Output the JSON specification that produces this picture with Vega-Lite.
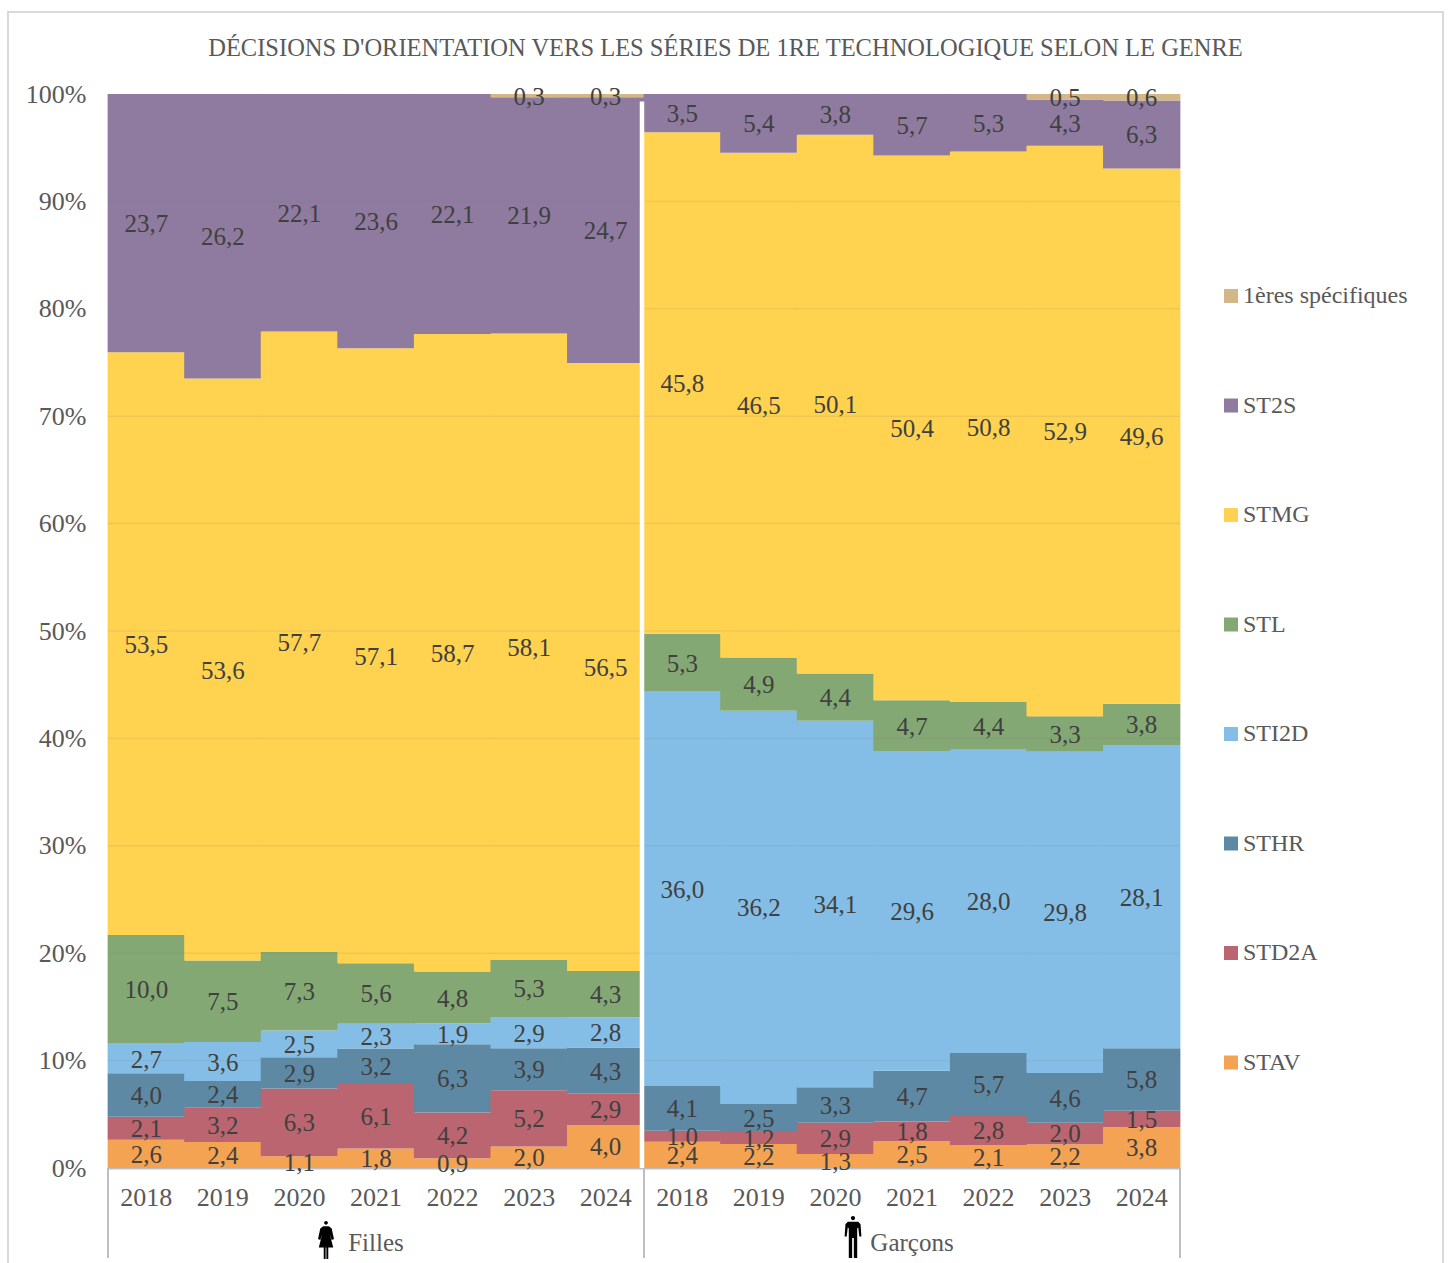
{"$schema":"https://vega.github.io/schema/vega-lite/v6.json","width":1435,"height":1252,"autosize":{"type":"none"},"padding":{"left":8,"top":12,"right":8,"bottom":0},"background":"white","view":{"stroke":"#d9d9d9","strokeWidth":2},"config":{"locale":{"number":{"decimal":",","thousands":" ","grouping":[3],"currency":["","€"]}},"font":"Liberation Serif"},"title":{"text":"DÉCISIONS D'ORIENTATION VERS LES SÉRIES DE 1RE TECHNOLOGIQUE SELON LE GENRE","font":"Liberation Serif","fontSize":24.5,"fontWeight":"normal","color":"#595959","anchor":"middle","frame":"group","offset":-49},"data":{"values":[
{"k":"F2018","s":"STAV","r":1,"v":2.6},{"k":"F2018","s":"STD2A","r":2,"v":2.1},{"k":"F2018","s":"STHR","r":3,"v":4.0},{"k":"F2018","s":"STI2D","r":4,"v":2.7},{"k":"F2018","s":"STL","r":5,"v":10.0},{"k":"F2018","s":"STMG","r":6,"v":53.5},{"k":"F2018","s":"ST2S","r":7,"v":23.7},
{"k":"F2019","s":"STAV","r":1,"v":2.4},{"k":"F2019","s":"STD2A","r":2,"v":3.2},{"k":"F2019","s":"STHR","r":3,"v":2.4},{"k":"F2019","s":"STI2D","r":4,"v":3.6},{"k":"F2019","s":"STL","r":5,"v":7.5},{"k":"F2019","s":"STMG","r":6,"v":53.6},{"k":"F2019","s":"ST2S","r":7,"v":26.2},
{"k":"F2020","s":"STAV","r":1,"v":1.1},{"k":"F2020","s":"STD2A","r":2,"v":6.3},{"k":"F2020","s":"STHR","r":3,"v":2.9},{"k":"F2020","s":"STI2D","r":4,"v":2.5},{"k":"F2020","s":"STL","r":5,"v":7.3},{"k":"F2020","s":"STMG","r":6,"v":57.7},{"k":"F2020","s":"ST2S","r":7,"v":22.1},
{"k":"F2021","s":"STAV","r":1,"v":1.8},{"k":"F2021","s":"STD2A","r":2,"v":6.1},{"k":"F2021","s":"STHR","r":3,"v":3.2},{"k":"F2021","s":"STI2D","r":4,"v":2.3},{"k":"F2021","s":"STL","r":5,"v":5.6},{"k":"F2021","s":"STMG","r":6,"v":57.1},{"k":"F2021","s":"ST2S","r":7,"v":23.6},
{"k":"F2022","s":"STAV","r":1,"v":0.9},{"k":"F2022","s":"STD2A","r":2,"v":4.2},{"k":"F2022","s":"STHR","r":3,"v":6.3},{"k":"F2022","s":"STI2D","r":4,"v":1.9},{"k":"F2022","s":"STL","r":5,"v":4.8},{"k":"F2022","s":"STMG","r":6,"v":58.7},{"k":"F2022","s":"ST2S","r":7,"v":22.1},
{"k":"F2023","s":"STAV","r":1,"v":2.0},{"k":"F2023","s":"STD2A","r":2,"v":5.2},{"k":"F2023","s":"STHR","r":3,"v":3.9},{"k":"F2023","s":"STI2D","r":4,"v":2.9},{"k":"F2023","s":"STL","r":5,"v":5.3},{"k":"F2023","s":"STMG","r":6,"v":58.1},{"k":"F2023","s":"ST2S","r":7,"v":21.9},{"k":"F2023","s":"1ères spécifiques","r":8,"v":0.3},
{"k":"F2024","s":"STAV","r":1,"v":4.0},{"k":"F2024","s":"STD2A","r":2,"v":2.9},{"k":"F2024","s":"STHR","r":3,"v":4.3},{"k":"F2024","s":"STI2D","r":4,"v":2.8},{"k":"F2024","s":"STL","r":5,"v":4.3},{"k":"F2024","s":"STMG","r":6,"v":56.5},{"k":"F2024","s":"ST2S","r":7,"v":24.7},{"k":"F2024","s":"1ères spécifiques","r":8,"v":0.3},
{"k":"G2018","s":"STAV","r":1,"v":2.4},{"k":"G2018","s":"STD2A","r":2,"v":1.0},{"k":"G2018","s":"STHR","r":3,"v":4.1},{"k":"G2018","s":"STI2D","r":4,"v":36.0},{"k":"G2018","s":"STL","r":5,"v":5.3},{"k":"G2018","s":"STMG","r":6,"v":45.8},{"k":"G2018","s":"ST2S","r":7,"v":3.5},
{"k":"G2019","s":"STAV","r":1,"v":2.2},{"k":"G2019","s":"STD2A","r":2,"v":1.2},{"k":"G2019","s":"STHR","r":3,"v":2.5},{"k":"G2019","s":"STI2D","r":4,"v":36.2},{"k":"G2019","s":"STL","r":5,"v":4.9},{"k":"G2019","s":"STMG","r":6,"v":46.5},{"k":"G2019","s":"ST2S","r":7,"v":5.4},
{"k":"G2020","s":"STAV","r":1,"v":1.3},{"k":"G2020","s":"STD2A","r":2,"v":2.9},{"k":"G2020","s":"STHR","r":3,"v":3.3},{"k":"G2020","s":"STI2D","r":4,"v":34.1},{"k":"G2020","s":"STL","r":5,"v":4.4},{"k":"G2020","s":"STMG","r":6,"v":50.1},{"k":"G2020","s":"ST2S","r":7,"v":3.8},
{"k":"G2021","s":"STAV","r":1,"v":2.5},{"k":"G2021","s":"STD2A","r":2,"v":1.8},{"k":"G2021","s":"STHR","r":3,"v":4.7},{"k":"G2021","s":"STI2D","r":4,"v":29.6},{"k":"G2021","s":"STL","r":5,"v":4.7},{"k":"G2021","s":"STMG","r":6,"v":50.4},{"k":"G2021","s":"ST2S","r":7,"v":5.7},
{"k":"G2022","s":"STAV","r":1,"v":2.1},{"k":"G2022","s":"STD2A","r":2,"v":2.8},{"k":"G2022","s":"STHR","r":3,"v":5.7},{"k":"G2022","s":"STI2D","r":4,"v":28.0},{"k":"G2022","s":"STL","r":5,"v":4.4},{"k":"G2022","s":"STMG","r":6,"v":50.8},{"k":"G2022","s":"ST2S","r":7,"v":5.3},
{"k":"G2023","s":"STAV","r":1,"v":2.2},{"k":"G2023","s":"STD2A","r":2,"v":2.0},{"k":"G2023","s":"STHR","r":3,"v":4.6},{"k":"G2023","s":"STI2D","r":4,"v":29.8},{"k":"G2023","s":"STL","r":5,"v":3.3},{"k":"G2023","s":"STMG","r":6,"v":52.9},{"k":"G2023","s":"ST2S","r":7,"v":4.3},{"k":"G2023","s":"1ères spécifiques","r":8,"v":0.5},
{"k":"G2024","s":"STAV","r":1,"v":3.8},{"k":"G2024","s":"STD2A","r":2,"v":1.5},{"k":"G2024","s":"STHR","r":3,"v":5.8},{"k":"G2024","s":"STI2D","r":4,"v":28.1},{"k":"G2024","s":"STL","r":5,"v":3.8},{"k":"G2024","s":"STMG","r":6,"v":49.6},{"k":"G2024","s":"ST2S","r":7,"v":6.3},{"k":"G2024","s":"1ères spécifiques","r":8,"v":0.6}
]},
"encoding":{"x":{"field":"k","type":"nominal","title":null,"sort":null,"scale":{"type":"band","domain":["F2018","F2019","F2020","F2021","F2022","F2023","F2024","G2018","G2019","G2020","G2021","G2022","G2023","G2024"],"range":[100,1172],"paddingInner":0,"paddingOuter":0},"axis":{"orient":"bottom","offset":-96,"ticks":false,"domainColor":"#bfbfbf","domainWidth":2,"labelExpr":"substring(datum.label,1)","labelFont":"Liberation Serif","labelFontSize":26,"labelColor":"#595959","labelPadding":16,"labelAngle":0,"grid":false}}},
"layer":[
{"mark":{"type":"bar","strokeWidth":0,"width":{"band":1.01}},"encoding":{"y":{"field":"v","type":"quantitative","stack":"normalize","title":null,"scale":{"domain":[0,1],"range":[1156,82],"nice":false,"zero":false},"axis":{"format":".0%","values":[0,0.1,0.2,0.3,0.4,0.5,0.6,0.7,0.8,0.9,1],"offset":-100,"domain":false,"ticks":false,"grid":false,"labelFont":"Liberation Serif","labelFontSize":26,"labelColor":"#595959","labelPadding":22}},"color":{"field":"s","type":"nominal","title":null,"scale":{"domain":["1ères spécifiques","ST2S","STMG","STL","STI2D","STHR","STD2A","STAV"],"range":["#D4B786","#8E7B9F","#FFD24F","#84A874","#84BEE6","#5E89A5","#BA6570","#F4A352"]},"legend":{"orient":"none","legendX":1211,"legendY":272,"symbolType":"square","symbolSize":196,"symbolStrokeWidth":0,"labelFont":"Liberation Serif","labelFontSize":24,"labelColor":"#595959","labelLimit":0,"rowPadding":85.5,"labelOffset":0,"title":null}},"order":{"field":"r","type":"quantitative"}}},
{"data":{"values":[{"t":0.1},{"t":0.2},{"t":0.3},{"t":0.4},{"t":0.5},{"t":0.6},{"t":0.7},{"t":0.8},{"t":0.9}]},"mark":{"type":"rule","stroke":"#7f7f7f","strokeOpacity":0.13,"strokeWidth":1.5,"x2Offset":38.28},"encoding":{"x":{"datum":"F2018","bandPosition":0},"x2":{"datum":"G2024"},"y":{"field":"t","type":"quantitative"}}},
{"mark":{"type":"text","font":"Liberation Serif","fontSize":25,"color":"#404040","baseline":"middle","dy":1},"encoding":{"y":{"field":"v","type":"quantitative","stack":"normalize","bandPosition":0.5},"text":{"field":"v","type":"quantitative","format":".1f"},"detail":{"field":"s"},"order":{"field":"r","type":"quantitative"}}},
{"data":{"values":[{"n":1}]},"mark":{"type":"rule","stroke":"white","strokeWidth":4.5,"xOffset":-2},"encoding":{"x":{"datum":"G2018","bandPosition":0},"y":{"datum":0},"y2":{"datum":0.993}}},
{"data":{"values":[{"e":"F2018"},{"e":"G2018"}]},"mark":{"type":"rule","stroke":"#bfbfbf","strokeWidth":2},"encoding":{"x":{"field":"e","type":"nominal","bandPosition":0},"y":{"datum":0},"y2":{"datum":-0.0838}}},
{"data":{"values":[{"n":1}]},"mark":{"type":"rule","stroke":"#bfbfbf","strokeWidth":2,"xOffset":76.57},"encoding":{"x":{"datum":"G2024","bandPosition":0},"y":{"datum":0},"y2":{"datum":-0.0838}}},
{"data":{"values":[{"n":1}]},"mark":{"type":"text","font":"Liberation Serif","fontSize":25,"color":"#595959","baseline":"middle"},"encoding":{"x":{"datum":"F2021"},"y":{"datum":-0.0698},"text":{"value":"Filles"}}},
{"data":{"values":[{"n":1}]},"mark":{"type":"text","font":"Liberation Serif","fontSize":25,"color":"#595959","baseline":"middle"},"encoding":{"x":{"datum":"G2021"},"y":{"datum":-0.0698},"text":{"value":"Garçons"}}},
{"data":{"values":[{"n":1}]},"mark":{"type":"point","filled":true,"color":"#000000","opacity":1,"size":1444,"xOffset":-50,"shape":"M0,-1 A0.1,0.1 0 1 1 0,-0.8 A0.1,0.1 0 1 1 0,-1 Z M-0.15,-0.72 L0.15,-0.72 L0.3,-0.6 L0.42,-0.05 L0.3,0 L0.2,-0.3 L0.38,0.4 L0.12,0.4 L0.12,1 L0.02,1 L0.02,0.4 L-0.02,0.4 L-0.02,1 L-0.12,1 L-0.12,0.4 L-0.38,0.4 L-0.2,-0.3 L-0.3,0 L-0.42,-0.05 L-0.3,-0.6 Z"},"encoding":{"x":{"datum":"F2021"},"y":{"datum":-0.067}}},
{"data":{"values":[{"n":1}]},"mark":{"type":"point","filled":true,"color":"#000000","opacity":1,"size":1764,"xOffset":-59,"shape":"M0,-1 A0.1,0.1 0 1 1 0,-0.8 A0.1,0.1 0 1 1 0,-1 Z M-0.25,-0.72 L0.25,-0.72 L0.36,-0.6 L0.4,-0.02 L0.3,-0.02 L0.25,-0.45 L0.2,-0.4 L0.2,1 L0.04,1 L0.04,0.05 L-0.04,0.05 L-0.04,1 L-0.2,1 L-0.2,-0.4 L-0.25,-0.45 L-0.3,-0.02 L-0.4,-0.02 L-0.36,-0.6 Z"},"encoding":{"x":{"datum":"G2021"},"y":{"datum":-0.0642}}}
]}
